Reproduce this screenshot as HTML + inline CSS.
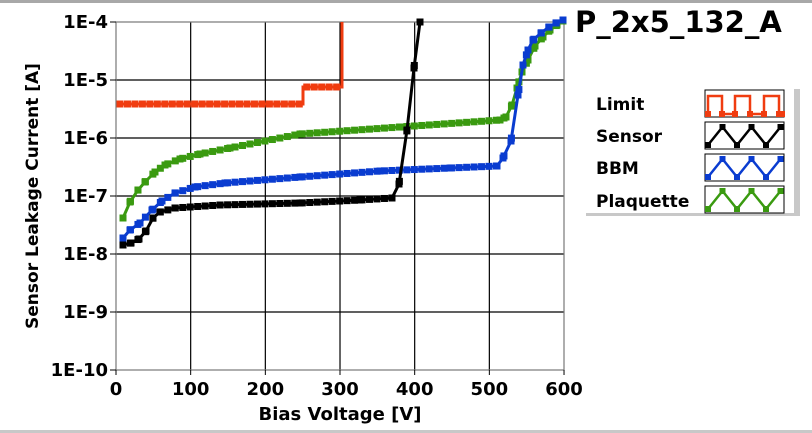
<!DOCTYPE html>
<html><head><meta charset="utf-8"><style>
html,body{margin:0;padding:0;background:#fff;}
svg{display:block;font-family:"DejaVu Sans","Liberation Sans",sans-serif;font-weight:bold;}
</style></head><body>
<svg id="s" width="812" height="433" viewBox="0 0 812 433" xmlns="http://www.w3.org/2000/svg">
<rect x="0" y="0" width="812" height="433" fill="#fff"/>
<rect x="0" y="0" width="812" height="3" fill="#a8a8a8"/>
<rect x="0" y="430" width="812" height="3" fill="#c8c8c8"/>
<g id="grid" stroke="#000" stroke-width="1.2"></g>
<rect x="116" y="22" width="448" height="348" fill="none" stroke="#777" stroke-width="1.2"/>
<g id="ticks" font-size="18" fill="#000"></g>
<text x="340" y="420" font-size="18" text-anchor="middle">Bias Voltage [V]</text>
<text transform="translate(38,196) rotate(-90)" font-size="17" text-anchor="middle">Sensor Leakage Current [A]</text>
<g id="series"></g>
<text x="575" y="32" font-size="29" fill="#000">P_2x5_132_A</text>
<rect x="586" y="89" width="214" height="127" fill="#c8c8c8"/>
<rect x="580" y="86" width="214" height="127" fill="#fff"/>
<g font-size="17" fill="#000">
<text x="596" y="110">Limit</text>
<text x="596" y="142">Sensor</text>
<text x="596" y="174">BBM</text>
<text x="596" y="207">Plaquette</text>
</g>
<g id="leg" fill="#fff" stroke="#000" stroke-width="1"></g>
</svg>
<script>
var NS="http://www.w3.org/2000/svg",s=document.getElementById('s');
function el(p,t,a){var e=document.createElementNS(NS,t);for(var k in a)e.setAttribute(k,a[k]);document.getElementById(p).appendChild(e);return e;}
function tx(p,x,y,str,anc){var e=el(p,'text',{x:x,y:y,'text-anchor':anc});e.textContent=str;}
for(var i=1;i<6;i++){var x=116+i*74.67;el('grid','line',{x1:x,y1:22,x2:x,y2:370});}
for(var j=1;j<6;j++){var y=22+j*58;el('grid','line',{x1:116,y1:y,x2:564,y2:y});}
var yl=['1E-4','1E-5','1E-6','1E-7','1E-8','1E-9','1E-10'];
for(var j=0;j<7;j++){var y=22+j*58;tx('ticks',108,y+6,yl[j],'end');el('ticks','line',{x1:110,y1:y,x2:116,y2:y,stroke:'#000'});}
for(var i=0;i<7;i++){var x=116+i*74.67;tx('ticks',x,395,String(i*100),'middle');el('ticks','line',{x1:x,y1:370,x2:x,y2:375,stroke:'#000'});}
function interp(a,x){for(var i=0;i<a.length-1;i++){if(x>=a[i][0]&&x<=a[i+1][0]){var t=(x-a[i][0])/(a[i+1][0]-a[i][0]);return a[i][1]+t*(a[i+1][1]-a[i][1]);}}return null;}
function series(a,col,w,step){var pts=a.map(function(p){return p.join(',')}).join(' ');
el('series','polyline',{points:pts,fill:'none',stroke:col,'stroke-width':w});
var x0=a[0][0],x1=a[a.length-1][0];
for(var x=x0;x<=x1+0.1;x+=step){var y=interp(a,Math.min(x,x1));if(y!==null)el('series','rect',{x:x-3.5,y:y-3.5,width:7,height:7,fill:col});}
for(var i=0;i<a.length;i++){el('series','rect',{x:a[i][0]-3.5,y:a[i][1]-3.5,width:7,height:7,fill:col});}}
var red=[[120,104],[303,104],[303,87],[342,87],[342,22]];
el('series','polyline',{points:red.map(function(p){return p.join(',')}).join(' '),fill:'none',stroke:'#f03c10','stroke-width':3});
for(var x=120;x<=342;x+=7.47){var y=x<303?104:87;el('series','rect',{x:x-3.5,y:y-3.5,width:7,height:7,fill:'#f03c10'});}
var green=[[123,218],[130,202],[138,190],[145,182],[155,172],[165,165],[180,159],[200,154],[230,148],[300,134],[400,127],[500,120],[506,117],[512,105],[517,88],[522,72],[528,60],[535,46],[543,37],[550,30],[557,25],[563,21]];
var blue=[[123,238],[130,230],[140,223],[152,210],[162,201],[175,193],[195,187],[225,183],[300,177],[380,171],[450,168],[497,166],[503,158],[511,141],[518,95],[523,65],[528,50],[533,40],[541,33],[549,27],[556,23],[563,20]];
var black=[[123,245],[131,243],[139,239],[146,231],[153,218],[160,212],[175,208],[220,205],[300,203],[360,200],[392,198],[399,184],[407,130],[414,68],[420,22]];
series(green,'#3a9a10',3,7.47);
series(blue,'#0a3cd0',3,7.47);
series(black,'#000',3,7.47);
var cols=['#f03c10','#000','#0a3cd0','#3a9a10'];
for(var k=0;k<4;k++){var y0=90+k*32;el('leg','rect',{x:705,y:y0,width:79,height:27});
var pts=[];
if(k==0){pts=[[708,114],[708,96],[722,96],[722,114],[735,114],[735,96],[750,96],[750,114],[764,114],[764,96],[779,96],[779,114],[782,114]];}
else{for(var i=0;i<6;i++){pts.push([708+i*14.5,(i%2?y0+5:y0+23)]);}}
el('leg','polyline',{points:pts.map(function(p){return p.join(',')}).join(' '),fill:'none',stroke:cols[k],'stroke-width':2.5});
pts.forEach(function(p){if(k>0||p[1]>110)el('leg','rect',{x:p[0]-3,y:p[1]-3,width:6,height:6,fill:cols[k],stroke:'none'});});}
</script>
</body></html>
